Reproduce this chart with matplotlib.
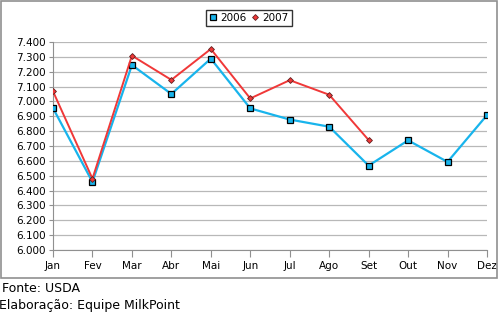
import matplotlib.pyplot as plt
from matplotlib.patches import Rectangle

# Data
months = ["Jan", "Fev", "Mar", "Abr", "Mai", "Jun", "Jul", "Ago", "Set", "Out", "Nov", "Dez"]
y2006 = [6.955, 6.458, 7.245, 7.050, 7.288, 6.953, 6.878, 6.830, 6.568, 6.738, 6.593, 6.908]
y2007 = [7.068, 6.480, 7.308, 7.145, 7.353, 7.020, 7.143, 7.045, 6.740]
yticks = [6.0 + 0.1 * i for i in range(15)]

blue = "#18b4ec"
red = "#f03838"
gray = "#909090"

fig = plt.figure(figsize=(4.98, 3.14), dpi=100)
ax = fig.add_axes([53 / 498, 1 - 250 / 314, 434 / 498, 208 / 314])

x = list(range(len(months)))
ax.plot(x, y2006, color=blue, lw=1.6, marker="s", ms=5, mfc=blue, mec="black", mew=0.9, label="2006", zorder=3)
ax.plot(x[:len(y2007)], y2007, color=red, lw=1.4, marker="D", ms=3, mfc=red, mec="#602020", mew=0.6, label="2007", zorder=4)

ax.set_xlim(0, 11)
ax.set_ylim(6.0, 7.4)
ax.set_xticks(x)
ax.set_xticklabels(months, fontsize=7.5)
ax.set_yticks(yticks)
ax.set_yticklabels([f"{v:.3f}" for v in yticks], fontsize=7.5)
ax.grid(axis="y", color="#b8b8b8", lw=0.9)
ax.set_axisbelow(True)
for s in ["top", "right"]:
    ax.spines[s].set_visible(False)
for s in ["left", "bottom"]:
    ax.spines[s].set_color(gray)
ax.tick_params(axis="x", color=gray, length=5, pad=3)
ax.tick_params(axis="y", color=gray, length=3, pad=2)

leg = fig.legend(loc="center", bbox_to_anchor=(249 / 498, 1 - 18 / 314), ncol=2, fontsize=7.5,
                 frameon=True, fancybox=False, edgecolor="black", handlelength=0.8,
                 handletextpad=0.3, columnspacing=0.4, borderpad=0.3, numpoints=1)
for h in leg.legend_handles:
    h.set_linestyle("none")
leg.get_frame().set_linewidth(1.0)

fig.patches.append(Rectangle((0.5 / 498, 1 - 278 / 314), 496 / 498, 277 / 314, transform=fig.transFigure,
                             fill=False, edgecolor=gray, lw=1.2))

fig.text(2 / 498, 1 - 289 / 314, "Fonte: USDA", fontsize=9, va="center", ha="left")
fig.text(-1 / 498, 1 - 305 / 314, "Elaboração: Equipe MilkPoint", fontsize=9, va="center", ha="left")

fig.savefig("out.png", dpi=100)
